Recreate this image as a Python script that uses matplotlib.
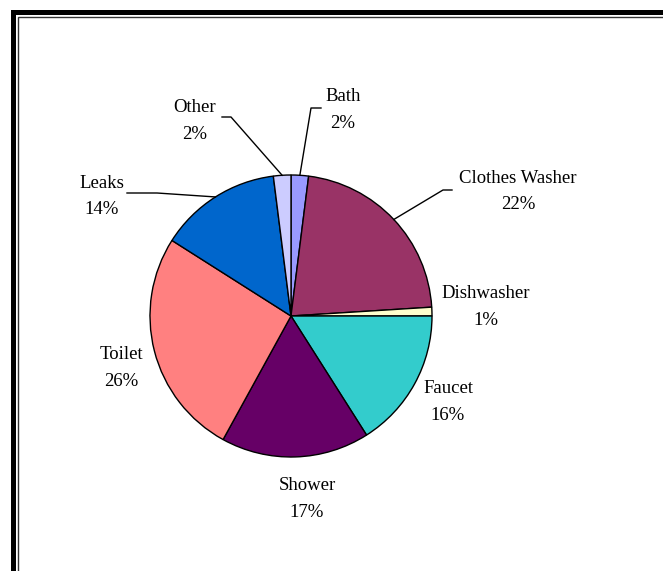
import numpy as np
import matplotlib.pyplot as plt
from matplotlib.patches import Rectangle

labels = ['Bath', 'Clothes Washer', 'Dishwasher', 'Faucet', 'Shower', 'Toilet', 'Leaks', 'Other']
values = [2, 22, 1, 16, 17, 26, 14, 2]
colors = ['#9999ff', '#993366', '#ffffcc', '#33cccc', '#660066', '#ff8080', '#0066cc', '#ccccff']

W, H = 663, 571
fig = plt.figure(figsize=(W / 100, H / 100), dpi=100)
ax = fig.add_axes([0, 0, 1, 1])

# pixel -> data (y flipped)
def P(x, y):
    return x, H - y

cx, cy = P(291, 316)
R = 141
wedges, _ = ax.pie(values, colors=colors, startangle=90, counterclock=False,
                   center=(cx, cy), radius=R, frame=True,
                   wedgeprops=dict(edgecolor='black', linewidth=1.0))
ax.set_xlim(0, W)
ax.set_ylim(0, H)
ax.set_aspect('equal')
ax.axis('off')

# label centres (pixels) and leader corner points
label_pos = {
    'Bath': (343, 110),
    'Clothes Washer': (518, 191.5),
    'Dishwasher': (486, 307),
    'Faucet': (448, 402),
    'Shower': (307, 499),
    'Toilet': (121, 368),
    'Leaks': (102, 196.5),
    'Other': (195, 121),
}
leaders = {
    'Bath': [(311, 108), (321, 108)],
    'Clothes Washer': [(443, 190), (452, 190)],
    'Leaks': [(157, 193), (127, 193)],
    'Other': [(231, 117), (222, 117)],
}

font = dict(family='Liberation Serif', fontsize=13.5, color='black')
for w, lab, v in zip(wedges, labels, values):
    x, y = P(*label_pos[lab])
    ax.text(x, y, f'{lab}\n{v}%', ha='center', va='center', linespacing=1.75, **font)
    if lab in leaders:
        a = np.deg2rad((w.theta1 + w.theta2) / 2)
        xs = [cx + R * np.cos(a)] + [p[0] for p in leaders[lab]]
        ys = [cy + R * np.sin(a)] + [H - p[1] for p in leaders[lab]]
        ax.plot(xs, ys, color='black', linewidth=1.0)

# double border, only top and left edges inside the picture
fig.patches.append(Rectangle((12.5 / W, -0.2), 1.5, 1.2 - 11.5 / H, transform=fig.transFigure,
                             fill=False, edgecolor='black', linewidth=3.6))
fig.patches.append(Rectangle((17.5 / W, -0.2), 1.5, 1.2 - 17 / H, transform=fig.transFigure,
                             fill=False, edgecolor='#333333', linewidth=1.0))

fig.savefig('out.png', dpi=100)
